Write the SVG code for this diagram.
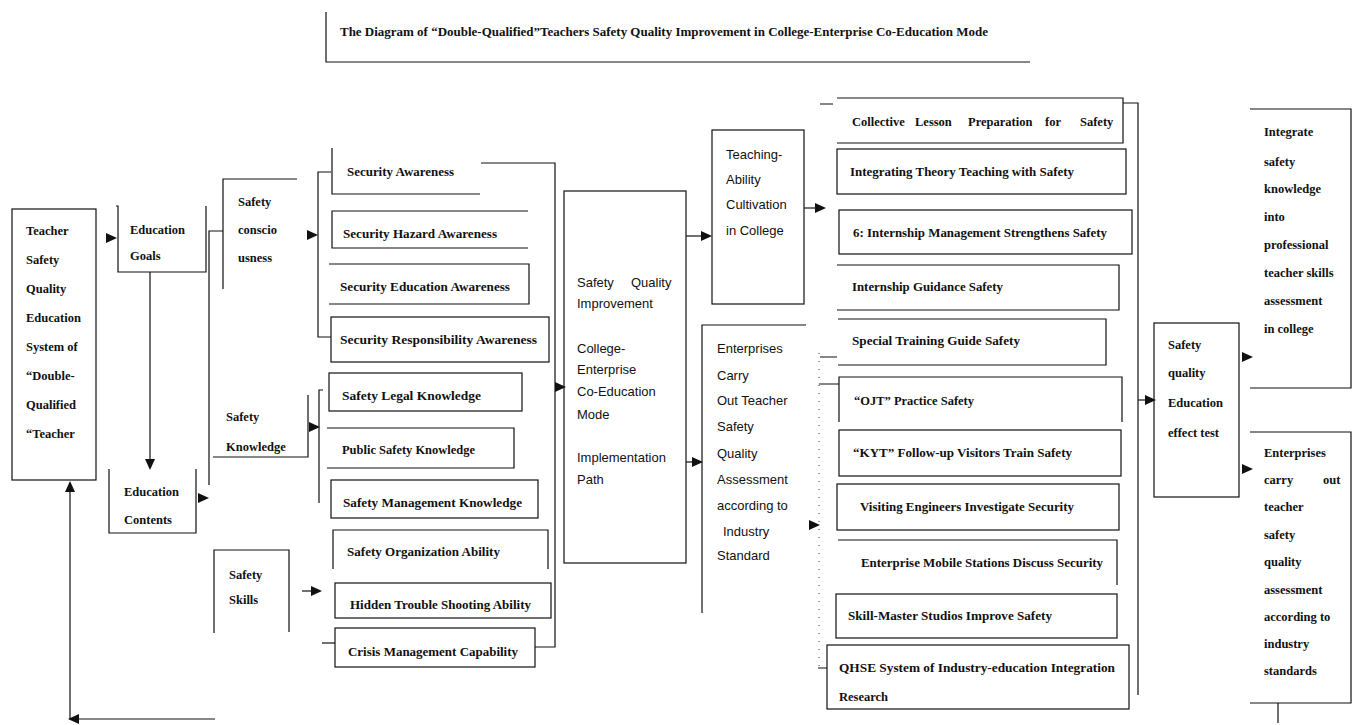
<svg xmlns="http://www.w3.org/2000/svg" xmlns:xlink="http://www.w3.org/1999/xlink" width="1353" height="725" viewBox="0 0 1353 725">
<style>
.s{font-family:"Liberation Serif","Times New Roman",serif;font-size:12.5px;font-weight:bold;fill:#111}
.a{font-family:"Liberation Sans",Arial,sans-serif;font-size:13px;fill:#111}
.t{font-family:"Liberation Serif","Times New Roman",serif;font-size:11.5px;font-weight:bold;fill:#111}
.ln{fill:none;stroke:#111;stroke-width:1.2}
.dot{fill:none;stroke:#333;stroke-width:1;stroke-dasharray:1 7}
.ah{fill:#111}
</style>
<defs>
<path id="ah" class="ah" d="M0,0 L-11,-5 L-11,5 Z"/>
</defs>
<rect width="1353" height="725" fill="#fff"/>

<g id="title">
<path class="ln" d="M326,12 V62 H1030"/>
<text class="t" x="340" y="36" textLength="648" lengthAdjust="spacingAndGlyphs">The Diagram of “Double-Qualified”Teachers Safety Quality Improvement in College-Enterprise Co-Education Mode</text>
</g>

<g id="connectors">
<path class="ln" d="M215,719 H70 V491"/>
<use xlink:href="#ah" transform="translate(70,481) rotate(-90)"/>
<use xlink:href="#ah" transform="translate(68,719) rotate(180)"/>
<use xlink:href="#ah" transform="translate(117,238)"/>
<path class="ln" d="M150,272 V460"/>
<use xlink:href="#ah" transform="translate(150,470) rotate(90)"/>
<use xlink:href="#ah" transform="translate(209,498)"/>
<path class="ln" d="M209,485 V231 H223"/>
<use xlink:href="#ah" transform="translate(318,235)"/>
<path class="ln" d="M331,172 H318 V337 H331"/>
<use xlink:href="#ah" transform="translate(320,427)"/>
<path class="ln" d="M323,390 H319 V503"/>
<path class="ln" d="M302,591 H312"/>
<use xlink:href="#ah" transform="translate(322,591)"/>
<path class="ln" d="M322,643 H335"/>
<path class="ln" d="M481,163 H555 V647 H535"/>
<use xlink:href="#ah" transform="translate(566,387)"/>
<path class="ln" d="M686,236 H702"/>
<use xlink:href="#ah" transform="translate(712,236)"/>
<path class="ln" d="M686,462 H693"/>
<use xlink:href="#ah" transform="translate(703,462)"/>
<path class="ln" d="M804,208 H815"/>
<use xlink:href="#ah" transform="translate(826,208)"/>
<use xlink:href="#ah" transform="translate(820,525)"/>
<path class="dot" d="M819,353 V672"/>
<path class="ln" d="M820,104 H833 M820,357 H837 M819,384 H839 M818,668 H827"/>
<path class="ln" d="M1123,103 H1138 V695"/>
<path class="ln" d="M1138,400 H1146"/>
<use xlink:href="#ah" transform="translate(1156,400)"/>
<use xlink:href="#ah" transform="translate(1253,357)"/>
<use xlink:href="#ah" transform="translate(1253,469)"/>
<path class="ln" d="M1278,703 V723"/>
</g>

<g id="n-system">
<rect class="ln" x="12" y="209" width="84" height="271"/>
<text class="s" x="26" y="235">Teacher</text>
<text class="s" x="26" y="264">Safety</text>
<text class="s" x="26" y="293">Quality</text>
<text class="s" x="26" y="322">Education</text>
<text class="s" x="26" y="351">System of</text>
<text class="s" x="26" y="380">“Double-</text>
<text class="s" x="26" y="409">Qualified</text>
<text class="s" x="26" y="438">“Teacher</text>
</g>

<g id="n-goals">
<path class="ln" d="M116,206 H118 V272 H206 V206"/>
<text class="s" x="130" y="234">Education</text>
<text class="s" x="130" y="260">Goals</text>
</g>

<g id="n-contents">
<path class="ln" d="M109,469 V533 H196 V469"/>
<text class="s" x="124" y="496">Education</text>
<text class="s" x="124" y="524">Contents</text>
</g>

<g id="n-consciousness">
<path class="ln" d="M297,179 H223 V289"/>
<text class="s" x="238" y="206">Safety</text>
<text class="s" x="238" y="234">conscio</text>
<text class="s" x="238" y="262">usness</text>
</g>

<g id="n-knowledge">
<path class="ln" d="M213,457 H308 V395"/>
<text class="s" x="226" y="421">Safety</text>
<text class="s" x="226" y="451">Knowledge</text>
</g>

<g id="n-skills">
<path class="ln" d="M214,633 V550 H289 V632"/>
<text class="s" x="229" y="579">Safety</text>
<text class="s" x="229" y="604">Skills</text>
</g>

<g id="n-sec-aw">
<path class="ln" d="M332,148 V194 H480"/>
<text class="s" x="347" y="176" textLength="107" lengthAdjust="spacingAndGlyphs">Security Awareness</text>
</g>
<g id="n-sec-haz">
<path class="ln" d="M528,211 H332 V248 H528"/>
<text class="s" x="343" y="238" textLength="154" lengthAdjust="spacingAndGlyphs">Security Hazard Awareness</text>
</g>
<g id="n-sec-edu">
<path class="ln" d="M329,264 H529 V304 H329"/>
<text class="s" x="340" y="291" textLength="170" lengthAdjust="spacingAndGlyphs">Security Education Awareness</text>
</g>
<g id="n-sec-resp">
<rect class="ln" x="331" y="317" width="218" height="45"/>
<text class="s" x="340" y="344" textLength="197" lengthAdjust="spacingAndGlyphs">Security Responsibility Awareness</text>
</g>
<g id="n-legal">
<rect class="ln" x="329" y="373" width="193" height="38"/>
<text class="s" x="342" y="400" textLength="139" lengthAdjust="spacingAndGlyphs">Safety Legal Knowledge</text>
</g>
<g id="n-public">
<path class="ln" d="M327,428 H514 V468 H327"/>
<text class="s" x="342" y="454" textLength="133" lengthAdjust="spacingAndGlyphs">Public Safety Knowledge</text>
</g>
<g id="n-mgmt">
<rect class="ln" x="331" y="480" width="207" height="38"/>
<text class="s" x="343" y="507" textLength="179" lengthAdjust="spacingAndGlyphs">Safety Management Knowledge</text>
</g>
<g id="n-org">
<path class="ln" d="M333,569 V530 H548 V569"/>
<text class="s" x="347" y="556" textLength="153" lengthAdjust="spacingAndGlyphs">Safety Organization Ability</text>
</g>
<g id="n-hidden">
<rect class="ln" x="335" y="583" width="216" height="35"/>
<text class="s" x="350" y="609" textLength="181" lengthAdjust="spacingAndGlyphs">Hidden Trouble Shooting Ability</text>
</g>
<g id="n-crisis">
<rect class="ln" x="335" y="628" width="200" height="39"/>
<text class="s" x="348" y="656" textLength="170" lengthAdjust="spacingAndGlyphs">Crisis Management Capability</text>
</g>

<g id="n-sqi">
<rect class="ln" x="564" y="191" width="122" height="372"/>
<text class="a" x="577" y="287">Safety</text>
<text class="a" x="631" y="287">Quality</text>
<text class="a" x="577" y="308">Improvement</text>
<text class="a" x="577" y="353">College-</text>
<text class="a" x="577" y="374">Enterprise</text>
<text class="a" x="577" y="396">Co-Education</text>
<text class="a" x="577" y="419">Mode</text>
<text class="a" x="577" y="462">Implementation</text>
<text class="a" x="577" y="484">Path</text>
</g>

<g id="n-teaching">
<rect class="ln" x="712" y="130" width="92" height="174"/>
<text class="a" x="726" y="159">Teaching-</text>
<text class="a" x="726" y="184">Ability</text>
<text class="a" x="726" y="209">Cultivation</text>
<text class="a" x="726" y="235">in College</text>
</g>

<g id="n-enterprises">
<path class="ln" d="M806,325 H702 V613"/>
<text class="a" x="717" y="353">Enterprises</text>
<text class="a" x="717" y="380">Carry</text>
<text class="a" x="717" y="405">Out Teacher</text>
<text class="a" x="717" y="431">Safety</text>
<text class="a" x="717" y="458">Quality</text>
<text class="a" x="717" y="484">Assessment</text>
<text class="a" x="717" y="510">according to</text>
<text class="a" x="723" y="536">Industry</text>
<text class="a" x="717" y="560">Standard</text>
</g>

<g id="n-collective">
<path class="ln" d="M837,98 H1123 V143 H837"/>
<text class="s" y="126"><tspan x="852">Collective</tspan><tspan x="915">Lesson</tspan><tspan x="968">Preparation</tspan><tspan x="1045">for</tspan><tspan x="1080">Safety</tspan></text>
</g>
<g id="n-integrating">
<rect class="ln" x="837" y="149" width="289" height="45"/>
<text class="s" x="850" y="176" textLength="224" lengthAdjust="spacingAndGlyphs">Integrating Theory Teaching with Safety</text>
</g>
<g id="n-internship-mgmt">
<rect class="ln" x="839" y="210" width="293" height="44"/>
<text class="s" x="853" y="237" textLength="254" lengthAdjust="spacingAndGlyphs">6: Internship Management Strengthens Safety</text>
</g>
<g id="n-internship-guid">
<path class="ln" d="M837,265 H1119 V310 H837"/>
<text class="s" x="852" y="291" textLength="151" lengthAdjust="spacingAndGlyphs">Internship Guidance Safety</text>
</g>
<g id="n-special">
<path class="ln" d="M838,319 H1106 V365 H838"/>
<text class="s" x="852" y="345" textLength="168" lengthAdjust="spacingAndGlyphs">Special Training Guide Safety</text>
</g>
<g id="n-ojt">
<path class="ln" d="M839,422 V377 H1122 V422"/>
<text class="s" x="854" y="405" textLength="120" lengthAdjust="spacingAndGlyphs">“OJT” Practice Safety</text>
</g>
<g id="n-kyt">
<rect class="ln" x="839" y="430" width="282" height="46"/>
<text class="s" x="853" y="457" textLength="219" lengthAdjust="spacingAndGlyphs">“KYT” Follow-up Visitors Train Safety</text>
</g>
<g id="n-visiting">
<rect class="ln" x="837" y="484" width="282" height="46"/>
<text class="s" x="860" y="511" textLength="214" lengthAdjust="spacingAndGlyphs">Visiting Engineers Investigate Security</text>
</g>
<g id="n-mobile">
<path class="ln" d="M838,540 H1117 V585"/>
<text class="s" x="861" y="567" textLength="242" lengthAdjust="spacingAndGlyphs">Enterprise Mobile Stations Discuss Security</text>
</g>
<g id="n-skillmaster">
<rect class="ln" x="836" y="594" width="281" height="44"/>
<text class="s" x="848" y="620" textLength="204" lengthAdjust="spacingAndGlyphs">Skill-Master Studios Improve Safety</text>
</g>
<g id="n-qhse">
<rect class="ln" x="827" y="645" width="302" height="64"/>
<text class="s" x="839" y="672" textLength="276" lengthAdjust="spacingAndGlyphs">QHSE System of Industry-education Integration</text>
<text class="s" x="839" y="701">Research</text>
</g>

<g id="n-effect">
<rect class="ln" x="1154" y="323" width="85" height="174"/>
<text class="s" x="1168" y="349">Safety</text>
<text class="s" x="1168" y="377">quality</text>
<text class="s" x="1168" y="407">Education</text>
<text class="s" x="1168" y="437">effect test</text>
</g>

<g id="n-integrate">
<path class="ln" d="M1250,109 H1351 V388 H1250"/>
<text class="s" x="1264" y="136">Integrate</text>
<text class="s" x="1264" y="166">safety</text>
<text class="s" x="1264" y="193">knowledge</text>
<text class="s" x="1264" y="221">into</text>
<text class="s" x="1264" y="249">professional</text>
<text class="s" x="1264" y="277">teacher skills</text>
<text class="s" x="1264" y="305">assessment</text>
<text class="s" x="1264" y="333">in college</text>
</g>

<g id="n-ent-assess">
<path class="ln" d="M1250,432 H1351 V703 H1250"/>
<text class="s" x="1264" y="457">Enterprises</text>
<text class="s" y="484"><tspan x="1264">carry</tspan><tspan x="1323">out</tspan></text>
<text class="s" x="1264" y="511">teacher</text>
<text class="s" x="1264" y="539">safety</text>
<text class="s" x="1264" y="566">quality</text>
<text class="s" x="1264" y="594">assessment</text>
<text class="s" x="1264" y="621">according to</text>
<text class="s" x="1264" y="648">industry</text>
<text class="s" x="1264" y="675">standards</text>
</g>
</svg>
